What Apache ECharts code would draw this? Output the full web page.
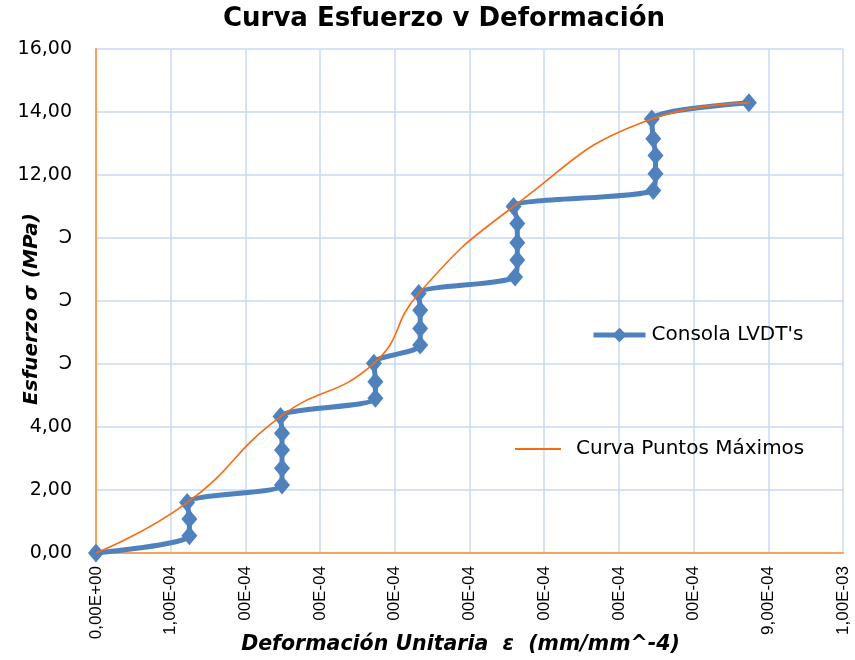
<!DOCTYPE html>
<html>
<head>
<meta charset="utf-8">
<script src="https://cdn.jsdelivr.net/npm/echarts@6/dist/echarts.min.js"></script>
<style>
  html, body { margin: 0; padding: 0; background: #fff; }
  #chart { width: 855px; height: 660px; }
</style>
</head>
<body>
<div id="chart"></div>
<script>
// Strain (mm/mm) readings from the LVDT console
const lvdtStrain = [
  0, 1.25e-4, 1.25e-4, 1.22e-4, 2.49e-4, 2.49e-4, 2.49e-4, 2.49e-4, 2.47e-4,
  3.74e-4, 3.74e-4, 3.72e-4, 4.34e-4, 4.34e-4, 4.34e-4, 4.32e-4,
  5.61e-4, 5.64e-4, 5.64e-4, 5.64e-4, 5.59e-4,
  7.46e-4, 7.49e-4, 7.49e-4, 7.46e-4, 7.44e-4, 8.74e-4
];
// Stress (MPa) for each LVDT reading
const lvdtStress = [
  0, 0.55, 1.08, 1.60, 2.16, 2.69, 3.27, 3.80, 4.33,
  4.91, 5.44, 6.02, 6.60, 7.13, 7.71, 8.24,
  8.76, 9.30, 9.85, 10.46, 11.00,
  11.51, 12.04, 12.62, 13.15, 13.78, 14.29
];
// Peak points of each load step
const peakStrain = [0, 1.22e-4, 2.47e-4, 3.72e-4, 4.32e-4, 5.59e-4, 7.44e-4, 8.74e-4];
const peakStress = [0, 1.60, 4.33, 6.02, 8.24, 11.00, 13.78, 14.29];

// Axis tick labels
const xTickLabels = ['0,00E+00', '1,00E-04', '00E-04', '00E-04', '00E-04', '00E-04',
                     '00E-04', '00E-04', '00E-04', '9,00E-04', '1,00E-03'];
const yTickLabels = ['0,00', '2,00', '4,00', '\u2183', '\u2183', '\u2183', '12,00', '14,00', '16,00'];

const seriesNames = ["Consola LVDT's", 'Curva Puntos Máximos'];

const zip = (xs, ys) => xs.map((x, i) => [x, ys[i]]);

const chart = echarts.init(document.getElementById('chart'), null, { renderer: 'canvas' });

chart.setOption({
  backgroundColor: '#ffffff',
  animation: false,
  title: {
    text: 'Curva Esfuerzo v Deformación',
    left: 439,
    top: 1,
    textAlign: 'center',
    textStyle: { fontFamily: 'DejaVu Sans', fontWeight: 'bold', fontSize: 26, color: '#000' }
  },
  legend: [
    {
      data: [seriesNames[0]],
      left: 586, top: 320,
      itemWidth: 52, itemHeight: 18, itemGap: 8,
      lineStyle: { width: 5 },
      textStyle: { fontFamily: 'DejaVu Sans', fontSize: 20, color: '#000', padding: [0, 0, 0, 1] }
    },
    {
      data: [{ name: seriesNames[1], icon: 'rect' }],
      left: 510, top: 434,
      itemWidth: 46, itemHeight: 2, itemGap: 16,
      textStyle: { fontFamily: 'DejaVu Sans', fontSize: 20, color: '#000', padding: [0, 0, 0, 10] }
    }
  ],
  grid: { left: 96, top: 49, right: 12, bottom: 107, outerBoundsMode: 'none', containLabel: false },
  xAxis: {
    type: 'value',
    min: 0, max: 1e-3, interval: 1e-4,
    name: 'Deformación Unitaria  ε  (mm/mm^-4)',
    nameLocation: 'middle',
    nameGap: 82,
    nameMoveOverlap: false,
    nameTextStyle: { fontFamily: 'DejaVu Sans', fontWeight: 'bold', fontStyle: 'italic', fontSize: 20.5, color: '#000', padding: [0, 18, 0, 0] },
    axisLine: { lineStyle: { color: '#F9A15A', width: 2 } },
    axisTick: { show: false },
    splitLine: { lineStyle: { color: '#C9DAF0', width: 1.5 } },
    axisLabel: {
      rotate: 90,
      margin: 13,
      fontFamily: 'Liberation Sans',
      fontSize: 17,
      color: '#000',
      formatter: v => xTickLabels[Math.round(v / 1e-4)]
    }
  },
  yAxis: {
    type: 'value',
    min: 0, max: 16, interval: 2,
    name: 'Esfuerzo σ (MPa)',
    nameLocation: 'middle',
    nameGap: 54,
    nameMoveOverlap: false,
    nameTextStyle: { fontFamily: 'DejaVu Sans', fontWeight: 'bold', fontStyle: 'italic', fontSize: 20, color: '#000', padding: [0, 16, 0, 0] },
    axisLine: { show: true, lineStyle: { color: '#F9A15A', width: 2 } },
    axisTick: { show: false },
    splitLine: { lineStyle: { color: '#C9DAF0', width: 1.5 } },
    axisLabel: {
      margin: 24,
      fontFamily: 'DejaVu Sans',
      fontSize: 19,
      color: '#000',
      formatter: v => yTickLabels[Math.round(v / 2)]
    }
  },
  series: [
    {
      name: seriesNames[0],
      type: 'line',
      data: zip(lvdtStrain, lvdtStress),
      smooth: 0.3,
      symbol: 'diamond',
      symbolSize: [16, 19],
      lineStyle: { color: '#4F81BD', width: 5 },
      itemStyle: { color: '#4F81BD' },
      z: 2
    },
    {
      name: seriesNames[1],
      type: 'line',
      data: zip(peakStrain, peakStress),
      smooth: 0.5,
      symbol: 'none',
      lineStyle: { color: '#F76B12', width: 1.6 },
      itemStyle: { color: '#F76B12' },
      z: 3
    }
  ]
});
</script>
</body>
</html>
